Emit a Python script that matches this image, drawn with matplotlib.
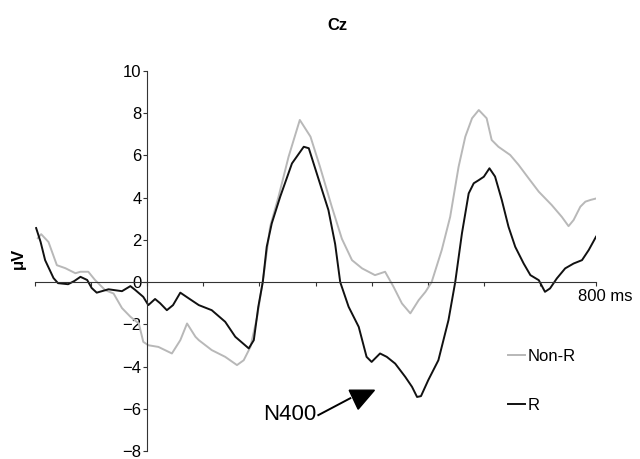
import matplotlib
matplotlib.use("Agg")
import matplotlib.pyplot as plt
from matplotlib.patches import Polygon
from matplotlib.lines import Line2D

plt.rcParams["font.family"] = ["Liberation Sans", "DejaVu Sans"]

# ERP at Cz (ms, microvolts)
time_r = [-198, -190, -182, -167, -159, -141, -130, -119, -107, -99, -90, -69, -45, -30, -21,
          -7, 2, 14, 23, 35, 46, 59, 74, 92, 115, 139, 157, 181, 190, 198, 206, 213, 222,
          237, 258, 279, 288, 306, 323, 335, 344, 359, 377, 391, 400, 415, 427, 442, 460,
          472, 481, 488, 501, 519, 537, 549, 561, 573, 582, 591, 600, 610, 620, 632, 644,
          656, 671, 683, 698, 709, 718, 730, 745, 760, 775, 787, 800]
uv_r = [2.56, 1.9, 1.04, 0.19, -0.05, -0.1, 0.05, 0.25, 0.1, -0.28, -0.5, -0.34, -0.43, -0.19, -0.38,
        -0.7, -1.09, -0.8, -1.0, -1.33, -1.09, -0.5, -0.77, -1.09, -1.33, -1.88, -2.59, -3.14, -2.75, -1.17, 0.0, 1.67, 2.78,
        4.04, 5.62, 6.41, 6.34, 4.83, 3.41, 1.8, 0.0, -1.17, -2.12, -3.54, -3.78, -3.38, -3.54, -3.86, -4.49,
        -4.96, -5.44, -5.4, -4.64, -3.7, -1.8, 0.0, 2.31, 4.2, 4.68, 4.83, 4.99, 5.39, 5.0, 3.89, 2.62,
        1.67, 0.88, 0.33, 0.09, -0.46, -0.3, 0.17, 0.65, 0.88, 1.04, 1.52, 2.15]

time_nonr = [-195, -189, -176, -161, -146, -128, -119, -105, -93, -75, -60, -45, -30, -15, -7,
             2, 20, 44, 59, 71, 86, 92, 115, 139, 160, 172, 184, 196, 208, 219, 234, 252, 272,
             291, 308, 329, 347, 365, 383, 406, 424, 439, 454, 469, 484, 496, 507, 525, 540,
             555, 567, 579, 591, 605, 614, 626, 647, 662, 680, 698, 721, 739, 751, 760, 772,
             781, 790, 800]
uv_nonr = [2.08, 2.27, 1.9, 0.8, 0.66, 0.42, 0.49, 0.49, 0.1, -0.38, -0.54, -1.23, -1.64, -1.96, -2.83,
           -2.99, -3.07, -3.38, -2.75, -1.96, -2.59, -2.75, -3.22, -3.54, -3.93, -3.7, -3.07, -1.64, 0.41, 2.62, 4.04, 5.94, 7.68,
           6.89, 5.46, 3.57, 2.05, 1.04, 0.65, 0.33, 0.49, -0.22, -1.01, -1.48, -0.85, -0.46, 0.0, 1.52, 3.09,
           5.46, 6.89, 7.76, 8.15, 7.76, 6.73, 6.41, 6.02, 5.55, 4.91, 4.28, 3.65, 3.09, 2.65, 2.94, 3.57,
           3.81, 3.89, 3.96]

x_ticks = list(range(-200, 801, 100))
y_ticks = list(range(-8, 11, 2))

fig = plt.figure(figsize=(6.4, 4.59), dpi=100)
ax = fig.add_axes([0.0547, 0.0174, 0.8766, 0.828])

ax.plot(time_nonr, uv_nonr, color="#b8b8b8", lw=1.4, label="Non-R")
ax.plot(time_r, uv_r, color="#111111", lw=1.4, label="R")

ax.set_xlim(-200, 800)
ax.set_ylim(-8, 10)
for s in ["top", "right"]:
    ax.spines[s].set_visible(False)
ax.spines["left"].set_position(("data", 0))
ax.spines["bottom"].set_position(("data", 0))
ax.spines["left"].set_color("#333333")
ax.spines["bottom"].set_color("#333333")
ax.set_xticks(x_ticks)
ax.set_xticklabels([])
ax.set_yticks(y_ticks)
ax.tick_params(axis="x", direction="out", length=3, color="#333333")
ax.tick_params(axis="y", direction="out", length=3, pad=1, labelsize=12, color="#333333")

ax.text(768, -0.66, "800 ms", fontsize=12, ha="left", va="center", clip_on=False)
fig.text(0.527, 0.945, "Cz", fontsize=12, fontweight="bold", ha="center", va="center")
fig.text(0.028, 0.438, "μV", fontsize=12, fontweight="bold", rotation=90, ha="center", va="center")

# N400 arrow
ax.text(301, -6.25, "N400", fontsize=16, ha="right", va="center")
ax.plot([305, 362], [-6.3, -5.5], color="black", lw=1.4)
ax.add_patch(Polygon([[360, -5.12], [405, -5.12], [376, -6.02]], closed=True, color="black"))

handles = [Line2D([], [], color="#b8b8b8", lw=1.4), Line2D([], [], color="#111111", lw=1.4)]
ax.legend(handles, ["Non-R", "R"], frameon=False, fontsize=12, loc="upper left",
          bbox_to_anchor=(0.771, 0.273), bbox_transform=fig.transFigure,
          handlelength=1.0, handletextpad=0.15, labelspacing=2.05)

fig.savefig("out.png", dpi=100)
